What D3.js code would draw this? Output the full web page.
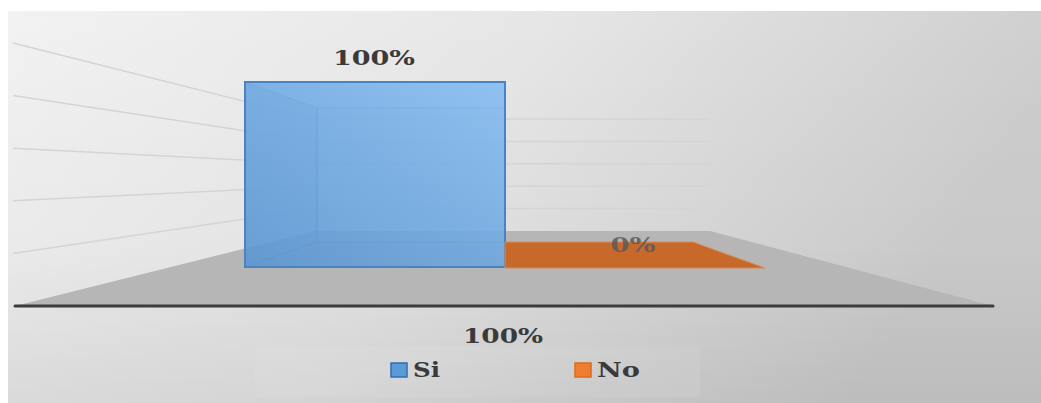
<!DOCTYPE html>
<html><head><meta charset="utf-8">
<script src="https://cdn.jsdelivr.net/npm/d3@7"></script>
<style>html,body{margin:0;padding:0;background:#fff;}svg{display:block;}</style>
</head><body>
<svg id="c" width="1041" height="403"></svg>
<script>
const categories = ["Si", "No"];
const values = [100, 0];
const valueLabels = ["100%", "0%"];
const axisCategory = ["100%"];
const gridTicks = [0, 20, 40, 60, 80, 100];
const seriesColors = ["#5b9bd5", "#c8692c"];
const legendColors = ["#5b9bd5", "#ed7d31"];

const svg = d3.select("#c");
const defs = svg.append("defs");

const bg = defs.append("linearGradient").attr("id","bg").attr("x1","0").attr("y1","0").attr("x2","1").attr("y2","0.25");
bg.append("stop").attr("offset","0").attr("stop-color","#f2f2f2");
bg.append("stop").attr("offset","0.5").attr("stop-color","#e6e6e6");
bg.append("stop").attr("offset","1").attr("stop-color","#cdcdcd");
const shade = defs.append("linearGradient").attr("id","shade").attr("x1","0").attr("y1","0").attr("x2","0").attr("y2","1");
shade.append("stop").attr("offset","0").attr("stop-color","#000").attr("stop-opacity",0);
shade.append("stop").attr("offset","0.6").attr("stop-color","#000").attr("stop-opacity",0.02);
shade.append("stop").attr("offset","1").attr("stop-color","#000").attr("stop-opacity",0.08);
const barG = defs.append("linearGradient").attr("id","barFront").attr("x1","0").attr("y1","1").attr("x2","1").attr("y2","0");
barG.append("stop").attr("offset","0").attr("stop-color","#5a96d2");
barG.append("stop").attr("offset","1").attr("stop-color","#86bdf2");
const blur = defs.append("filter").attr("id","soft").attr("x","-5%").attr("y","-5%").attr("width","110%").attr("height","110%");
blur.append("feGaussianBlur").attr("stdDeviation",0.6);

svg.append("rect").attr("x",8).attr("y",11).attr("width",1033).attr("height",392).attr("fill","url(#bg)");
svg.append("rect").attr("x",8).attr("y",11).attr("width",1033).attr("height",392).attr("fill","url(#shade)");

// 3D geometry via scales
const yBackWall = d3.scaleLinear().domain([0,100]).range([231,119]);
const yNearWall = d3.scaleLinear().domain([0,100]).range([306,43]);
const xNear = 13, xCorner = 315, xBackRight = 710;
const yFront = d3.scaleLinear().domain([0,100]).range([267,82]);
const yBack = d3.scaleLinear().domain([0,100]).range([242,108]);
const xFront = d3.scaleBand().domain(categories).range([245,765]).padding(0);
const xBack = d3.scaleBand().domain(categories).range([317,693]).padding(0);

// gridlines
const grid = svg.append("g").attr("stroke","#d4d4d4").attr("stroke-width",1.5).attr("fill","none").attr("filter","url(#soft)");
gridTicks.filter(t=>t>0).forEach(t=>{
  grid.append("line").attr("x1",xNear).attr("y1",yNearWall(t)).attr("x2",xCorner).attr("y2",yBackWall(t));
  grid.append("line").attr("x1",xCorner).attr("y1",yBackWall(t)).attr("x2",xBackRight).attr("y2",yBackWall(t));
});

// floor
const line = d3.line();
svg.append("path").attr("d", line([[15,yNearWall(0)],[xCorner,yBackWall(0)],[xBackRight,yBackWall(0)],[993,yNearWall(0)]])+"Z")
  .attr("fill","#b6b6b6");
svg.append("line").attr("x1",15).attr("x2",993).attr("y1",yNearWall(0)).attr("y2",yNearWall(0))
  .attr("stroke","#3c3c3c").attr("stroke-width",3).attr("stroke-linecap","round");

// bars
categories.forEach((c,i)=>{
  const v = values[i];
  const fx0 = xFront(c), fx1 = xFront(c)+xFront.bandwidth();
  const bx0 = xBack(c), bx1 = xBack(c)+xBack.bandwidth();
  const g = svg.append("g");
  if (v > 0) {
    const col = seriesColors[i];
    g.append("rect").attr("x",bx0).attr("y",yBack(v)).attr("width",bx1-bx0).attr("height",yBack(0)-yBack(v))
      .attr("fill",col).attr("fill-opacity",0.35).attr("stroke","#4f8ccc").attr("stroke-width",1).attr("stroke-opacity",0.7);
    g.append("path").attr("d",line([[fx0,yFront(v)],[bx0,yBack(v)],[bx0,yBack(0)],[fx0,yFront(0)]])+"Z")
      .attr("fill","#5593d0").attr("fill-opacity",0.45).attr("stroke","#4f8ccc").attr("stroke-opacity",0.7);
    g.append("path").attr("d",line([[fx0,yFront(0)],[bx0,yBack(0)],[bx1,yBack(0)],[fx1,yFront(0)]])+"Z")
      .attr("fill","#4f8ac6").attr("fill-opacity",0.35).attr("stroke","#4f8ccc").attr("stroke-opacity",0.6);
    g.append("path").attr("d",line([[fx0,yFront(v)],[bx0,yBack(v)],[bx1,yBack(v)],[fx1,yFront(v)]])+"Z")
      .attr("fill","#7fb6ec").attr("fill-opacity",0.4);
    g.append("rect").attr("x",fx0).attr("y",yFront(v)).attr("width",fx1-fx0).attr("height",yFront(0)-yFront(v))
      .attr("fill","url(#barFront)").attr("fill-opacity",0.82).attr("stroke","#4a84c0").attr("stroke-width",2);
  } else {
    g.append("path").attr("d",line([[fx0,yFront(0)+1],[bx0,yBack(0)],[bx1,yBack(0)],[fx1,yFront(0)+1]])+"Z")
      .attr("fill",seriesColors[i]).attr("stroke","#d98a55").attr("stroke-width",1);
  }
});

// value labels
const labelPos = [{x:374,y:65,w:82,col:"#3a3a3a"},{x:633,y:252,w:45,col:"#5a5a5a"}];
categories.forEach((c,i)=>{
  const p = labelPos[i];
  svg.append("text").attr("x",p.x - p.w/2).attr("y",p.y).text(valueLabels[i])
    .attr("font-family","DejaVu Serif").attr("font-weight","bold").attr("font-size",20)
    .attr("textLength",p.w).attr("lengthAdjust","spacingAndGlyphs").attr("fill",p.col)
    .attr("fill-opacity", i===1?0.85:1);
});

// category axis label
svg.append("text").attr("x",503-40).attr("y",343).text(axisCategory[0])
  .attr("font-family","DejaVu Serif").attr("font-weight","bold").attr("font-size",20)
  .attr("textLength",80).attr("lengthAdjust","spacingAndGlyphs").attr("fill","#3a3a3a");

// legend
svg.append("rect").attr("x",255).attr("y",347).attr("width",445).attr("height",50).attr("fill","#fff").attr("fill-opacity",0.07);
const legendX = [391, 575];
const legendW = [27, 43];
categories.forEach((c,i)=>{
  svg.append("rect").attr("x",legendX[i]).attr("y",363).attr("width",16).attr("height",14)
    .attr("fill",legendColors[i]).attr("stroke", i===0?"#2e6fb5":"#e06a1c").attr("stroke-width",1.5);
  svg.append("text").attr("x",legendX[i]+22).attr("y",377).text(c)
    .attr("font-family","DejaVu Serif").attr("font-weight","bold").attr("font-size",20)
    .attr("textLength",legendW[i]).attr("lengthAdjust","spacingAndGlyphs").attr("fill","#3a3a3a");
});
</script>
</body></html>
